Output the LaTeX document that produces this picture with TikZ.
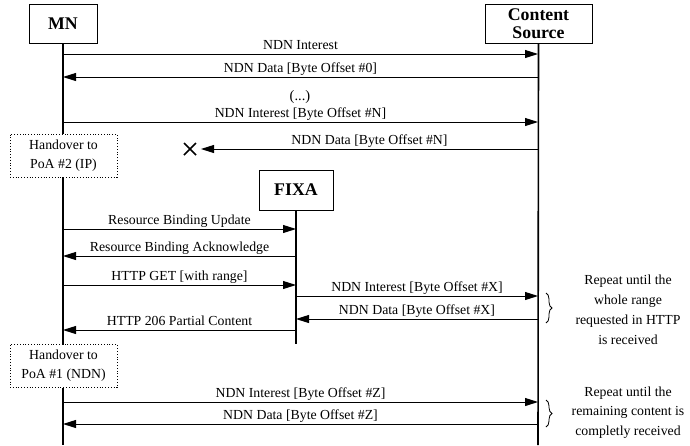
\documentclass[tikz,border=0pt]{standalone}
\usepackage{fontspec}
\setmainfont{Liberation Serif}
\usetikzlibrary{arrows.meta,decorations.pathreplacing}
\begin{document}
\begin{tikzpicture}[x=1pt,y=-1pt,
  actor/.style={draw,line width=1pt,fill=white,align=center,inner sep=0pt,
    font=\fontsize{17.8}{18}\selectfont\bfseries},
  life/.style={line width=1.6pt},
  msg/.style={line width=0.9pt,-{Triangle[length=13pt,width=8pt]}},
  lbl/.style={font=\fontsize{13.8}{16}\selectfont,inner sep=0pt,anchor=base,yshift=4.5pt},
  hand/.style={draw,dotted,line width=0.8pt,fill=white,minimum width=107pt,
    minimum height=43pt,align=center,inner sep=0pt,font=\fontsize{13.8}{19}\selectfont},
  note/.style={align=center,inner sep=0pt,font=\fontsize{13.8}{20}\selectfont},
  rbrace/.style={decorate,decoration={brace,amplitude=6pt},line width=0.8pt}
]
\useasboundingbox (0,0) rectangle (690,445);

% participants
\node[actor,minimum width=68pt,minimum height=39pt] (mn) at (63,23.5) {MN};
\node[actor,minimum width=107pt,minimum height=39pt] (cs) at (538.5,23.5) {Content\\Source};
\node[actor,minimum width=74pt,minimum height=40pt] (fixa) at (296,190) {FIXA};

% lifelines
\coordinate (mnEnd) at (63,445);
\coordinate (csEnd) at (538,445);
\coordinate (fxEnd) at (296,344);
\draw[life] (mn.south) -- (mnEnd);
\draw[life] (cs.south) -- (csEnd);
\draw[life] (fixa.south) -- (fxEnd);

% message end points on the lifelines
\foreach \n/\y in {1/54,2/77,3/122,4/149,5/229,6/256,7/285,8/296,9/319,10/330,11/402,12/424}{
  \coordinate (mn\n) at (63,\y);
  \coordinate (cs\n) at (538,\y);
  \coordinate (fx\n) at (296,\y);
}
\coordinate (lost) at (201,149);

% NDN exchange before handover
\draw[msg] (mn1) -- (cs1) node[lbl,midway] {NDN Interest};
\draw[msg] (cs2) -- (mn2) node[lbl,midway] {NDN Data [Byte Offset \#0]};
\node[font=\fontsize{14.5}{16}\selectfont] (dots) at (300,97) {(...)};
\draw[msg] (mn3) -- (cs3) node[lbl,midway] {NDN Interest [Byte Offset \#N]};
\draw[msg] (cs4) -- (lost) node[lbl,midway] {NDN Data [Byte Offset \#N]};
\node (cross) at (190,149) {};
\draw[line width=1.6pt] (cross.center) ++(-6,-6) -- ++(12,12)
                        (cross.center) ++(-6,6) -- ++(12,-12);

\node[hand] (ho1) at (63.5,155.5) {Handover to\\PoA \#2 (IP)};

% FIXA exchange
\draw[msg] (mn5) -- (fx5) node[lbl,midway] {Resource Binding Update};
\draw[msg] (fx6) -- (mn6) node[lbl,midway] {Resource Binding Acknowledge};
\draw[msg] (mn7) -- (fx7) node[lbl,midway] {HTTP GET [with range]};
\draw[msg] (fx8) -- (cs8) node[lbl,midway] {NDN Interest [Byte Offset \#X]};
\draw[msg] (cs9) -- (fx9) node[lbl,midway] {NDN Data [Byte Offset \#X]};
\draw[msg] (fx10) -- (mn10) node[lbl,midway] {HTTP 206 Partial Content};

\coordinate (b1t) at (546,293);
\coordinate (b1b) at (546,323);
\draw[rbrace] (b1t) -- (b1b);
\node[note] (rep1) at (628,310) {Repeat until the\\whole range\\requested in HTTP\\is received};

\node[hand] (ho2) at (63.5,366) {Handover to\\PoA \#1 (NDN)};

% NDN exchange after handover
\draw[msg] (mn11) -- (cs11) node[lbl,midway] {NDN Interest [Byte Offset \#Z]};
\draw[msg] (cs12) -- (mn12) node[lbl,midway] {NDN Data [Byte Offset \#Z]};

\coordinate (b2t) at (546,400);
\coordinate (b2b) at (546,427);
\draw[rbrace] (b2t) -- (b2b);
\node[note,font=\fontsize{13.8}{19.5}\selectfont] (rep2) at (628,412.5) {Repeat until the\\remaining content is\\completly received};
\end{tikzpicture}
\end{document}
